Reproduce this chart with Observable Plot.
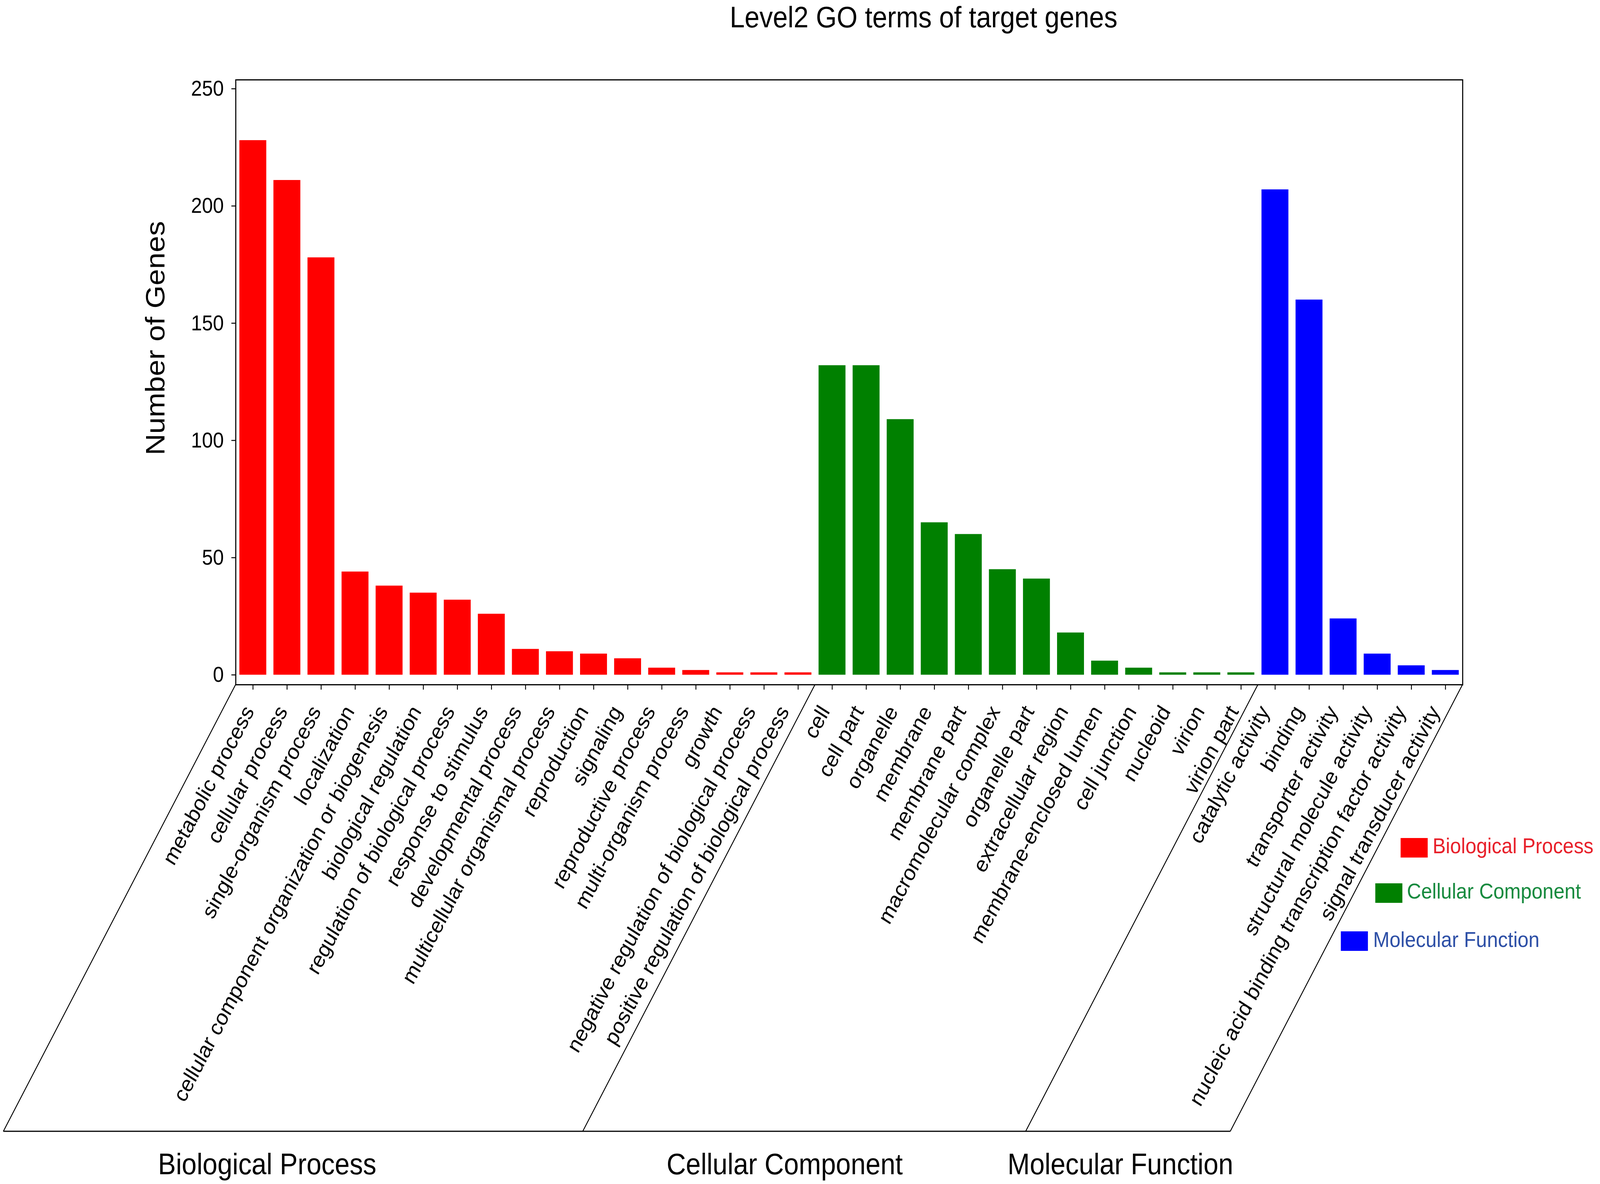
<!DOCTYPE html>
<html>
<head>
<meta charset="utf-8">
<script src="https://cdn.jsdelivr.net/npm/d3@7"></script>
<script src="https://cdn.jsdelivr.net/npm/@observablehq/plot@0.6"></script>
<style>
  html, body { margin: 0; padding: 0; background: #ffffff; width: 100%; height: 100%; overflow: hidden; }
  #chart { width: 100vw; height: 100vh; overflow: hidden; }
  #chart svg { display: block; }
</style>
</head>
<body>
<div id="chart"></div>
<script>
// ---------- data ----------
const bpTerms = [
  "metabolic process", "cellular process", "single-organism process", "localization",
  "cellular component organization or biogenesis", "biological regulation",
  "regulation of biological process", "response to stimulus", "developmental process",
  "multicellular organismal process", "reproduction", "signaling", "reproductive process",
  "multi-organism process", "growth", "negative regulation of biological process",
  "positive regulation of biological process"
];
const bpCounts = [228, 211, 178, 44, 38, 35, 32, 26, 11, 10, 9, 7, 3, 2, 1, 1, 1];

const ccTerms = [
  "cell", "cell part", "organelle", "membrane", "membrane part", "macromolecular complex",
  "organelle part", "extracellular region", "membrane-enclosed lumen", "cell junction",
  "nucleoid", "virion", "virion part"
];
const ccCounts = [132, 132, 109, 65, 60, 45, 41, 18, 6, 3, 1, 1, 1];

const mfTerms = [
  "catalytic activity", "binding", "transporter activity", "structural molecule activity",
  "nucleic acid binding transcription factor activity", "signal transducer activity"
];
const mfCounts = [207, 160, 24, 9, 4, 2];

const groups = ["Biological Process", "Cellular Component", "Molecular Function"];
const groupColors = ["#ff0000", "#008000", "#0000ff"];
const legendTextColors = ["#e8202a", "#168a3e", "#2d4fa6"];
const titleText = "Level2 GO terms of target genes";
const yLabelText = "Number of Genes";
const yTicks = [0, 50, 100, 150, 200, 250];

// ---------- table built from the arrays ----------
const termLists = [bpTerms, ccTerms, mfTerms];
const countLists = [bpCounts, ccCounts, mfCounts];
const data = termLists.flatMap((terms, g) =>
  terms.map((t, i) => ({term: t, count: countLists[g][i], group: groups[g]}))
);
const allTerms = data.map(d => d.term);
const groupStarts = [0, bpTerms.length, bpTerms.length + ccTerms.length];

const FONT = "'Liberation Sans', Arial, Helvetica, sans-serif";
const SVGNS = "http://www.w3.org/2000/svg";

function el(name, attrs, text) {
  const e = document.createElementNS(SVGNS, name);
  for (const k in attrs) e.setAttribute(k, attrs[k]);
  if (text != null) e.textContent = text;
  return e;
}

// decorations: slanted group dividers, base line, group names, legend, title, y label
function decorations(index, scales, values, dims) {
  const x = scales.x;
  const step = x.step ? x.step() : (x(allTerms[1]) - x(allTerms[0]));
  const bw = x.bandwidth ? x.bandwidth() : step * 0.8;
  const gap = step - bw;
  const fl = dims.marginLeft;
  const fr = dims.width - dims.marginRight;
  const fb = dims.height - dims.marginBottom;
  const ft = dims.marginTop;
  const k = Math.tan(Math.PI / 6);      // 60 degree slant
  const baseY = fb + 1144;              // bottom base line
  const g = el("g", {"font-family": FONT, "text-anchor": "start"});

  const bounds = groupStarts.map((s, i) => i === 0 ? fl : x(allTerms[s]) - gap / 2).concat([fr]);
  for (const bx of bounds) {
    g.appendChild(el("line", {x1: bx, y1: fb, x2: bx - k * (baseY - fb), y2: baseY,
      stroke: "#000", "stroke-width": 2.5}));
  }
  g.appendChild(el("line", {x1: bounds[0] - k * (baseY - fb), y1: baseY,
    x2: bounds[bounds.length - 1] - k * (baseY - fb), y2: baseY, stroke: "#000", "stroke-width": 3}));

  // group names
  const labelBase = fb + 1254;
  const shifts = [-10, 8, 42];
  groups.forEach((name, i) => {
    const cx = (bounds[i] + bounds[i + 1]) / 2 - k * (labelBase - fb) + shifts[i];
    g.appendChild(el("text", {x: cx, y: labelBase, "text-anchor": "middle",
      "font-size": 76, fill: "#000"}, name));
  });

  // legend
  const leg = [
    {rx: fr - 176, ry: fb + 393, tx: fr - 85, ty: fb + 432},
    {rx: fr - 248, ry: fb + 509, tx: fr - 158, ty: fb + 548},
    {rx: fr - 346, ry: fb + 632, tx: fr - 254, ty: fb + 672}
  ];
  groups.forEach((name, i) => {
    const p = leg[i];
    g.appendChild(el("rect", {x: p.rx, y: p.ry, width: 77, height: 50, fill: groupColors[i]}));
    g.appendChild(el("text", {x: p.tx, y: p.ty, "text-anchor": "start",
      "font-size": 56, fill: legendTextColors[i]}, name));
  });

  // title
  g.appendChild(el("text", {x: (fl + fr) / 2 + 212, y: 70, "text-anchor": "middle",
    "font-size": 76, fill: "#000"}, titleText));

  // y-axis label
  g.appendChild(el("text", {transform: `translate(${fl - 202},${ft + 662}) rotate(-90)`,
    "text-anchor": "middle", "font-size": 76, fill: "#000"}, yLabelText));
  return g;
}

// rotated category labels: one axis per group position so each label can sit slightly left
function labelDx(groupIndex, j) {
  if (groupIndex === 0) return -11 - 1.8 * j;
  if (groupIndex === 1) return -21;
  return -30;
}
const labelAxes = termLists.flatMap((terms, gi) => terms.map((t, j) =>
  Plot.axisX([t], {
    tickSize: 0, tickPadding: 59, tickRotate: -60, fontSize: 57,
    textAnchor: "end", lineAnchor: "middle", dx: labelDx(gi, j), label: null
  })
));

const chart = Plot.plot({
  width: 4550,
  height: 3032,
  marginTop: 204,
  marginRight: 391,
  marginBottom: 1279,
  marginLeft: 670,
  style: {fontFamily: FONT, color: "#000", background: "#fff", overflow: "hidden"},
  x: {domain: allTerms, paddingInner: 0.21, paddingOuter: 0.11, label: null},
  y: {domain: [-4.2, 253.8], label: null},
  color: {domain: groups, range: groupColors},
  marks: [
    Plot.barY(data, {x: "term", y: "count", fill: "group"}),
    Plot.frame({stroke: "#000", strokeWidth: 3}),
    Plot.axisY({ticks: yTicks, tickSize: 12, tickPadding: 22, fontSize: 56,
      strokeWidth: 2.5, label: null, tickFormat: d => String(d)}),
    Plot.axisX({tickSize: 13, strokeWidth: 2.5, tickFormat: () => "", label: null}),
    ...labelAxes,
    decorations
  ]
});
// fit the 4550x3032 drawing to the window that photographs it
chart.setAttribute("viewBox", "0 0 4550 3032");
chart.setAttribute("preserveAspectRatio", "none");
chart.style.width = "100vw";
chart.style.height = "100vh";
chart.style.maxWidth = "none";
document.getElementById("chart").appendChild(chart);
</script>
</body>
</html>
